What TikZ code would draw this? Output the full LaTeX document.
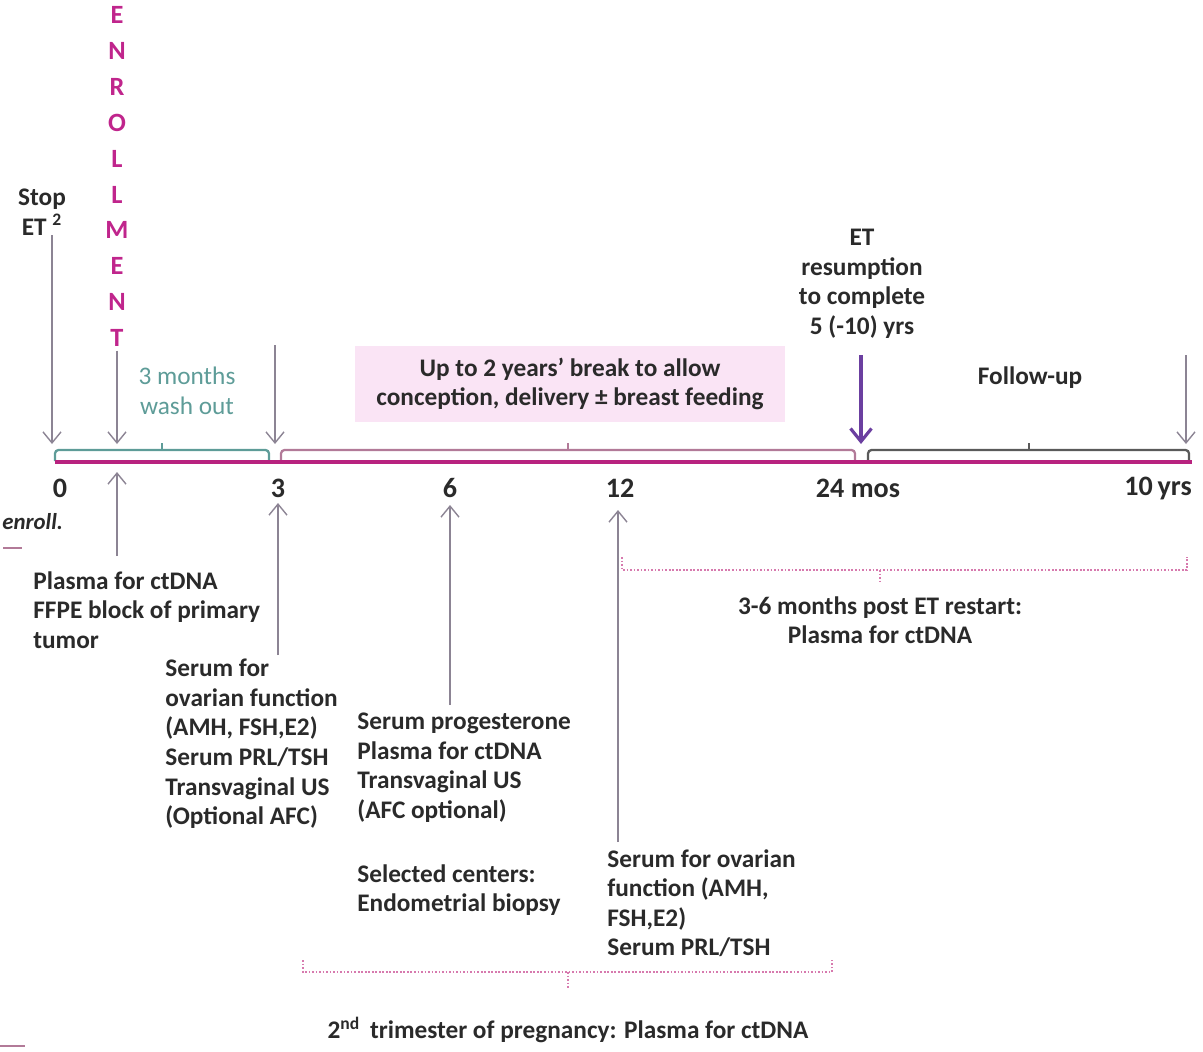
\documentclass[tikz,border=0pt]{standalone}
\usepackage{fontspec}
\setmainfont{Carlito}
\usetikzlibrary{positioning, arrows.meta}
\definecolor{tmag}{HTML}{B8237F}
\definecolor{tenr}{HTML}{C0258C}
\definecolor{tteal}{HTML}{5E9C98}
\definecolor{tmauve}{HTML}{B27A98}
\definecolor{tgray}{HTML}{8C8494}
\definecolor{tdgray}{HTML}{5A5A5A}
\definecolor{tpurple}{HTML}{6B3FA0}
\definecolor{tpink}{HTML}{FAE4F5}
\definecolor{tdot}{HTML}{D77AAE}
\definecolor{tdark}{HTML}{2A2A2A}

\begin{document}
\begin{tikzpicture}[x=0.02cm, y=-0.02cm,
    txt/.style={font=\fontsize{14.4}{16.8}\selectfont\bfseries, text=tdark, inner sep=0pt, align=left, anchor=north west},
    ctr/.style={txt, align=center, anchor=center},
    num/.style={font=\fontsize{16}{19}\selectfont\bfseries, text=tdark, inner sep=0pt},
    enr/.style={font=\fontsize{15}{18}\selectfont\bfseries, text=tenr, inner sep=0pt},
    arr/.style={-{Straight Barb[length=2.2mm, width=3.6mm]}, tgray, line width=0.8pt},
    parr/.style={-{Straight Barb[length=2.6mm, width=4.2mm]}, tpurple, line width=1.8pt},
    brk/.style={rounded corners=2pt, line width=1.3pt},
    dotbrk/.style={tdot, densely dotted, line width=1pt},
]
\useasboundingbox (0,0) rectangle (1203,1051);

% timeline
\coordinate (tl-start) at (55,462);
\coordinate (tl-end) at (1192,462);
\draw[brk, tteal] (55,461) -- (55,450) -- (269,450) -- (269,461);
\draw[tteal, line width=1.3pt] (162,450) -- (162,443);
\draw[brk, tmauve] (281,461) -- (281,450) -- (855,450) -- (855,461);
\draw[tmauve, line width=1.3pt] (568,450) -- (568,443);
\draw[brk, tdgray] (868,461) -- (868,450) -- (1189,450) -- (1189,461);
\draw[tdgray, line width=1.3pt] (1029,450) -- (1029,443);
\draw[tmag, line width=2.4pt] (tl-start) -- (tl-end);

\node[num] (m0) at (60,488) {0};
\node[num] (m3) at (278,488) {3};
\node[num] (m6) at (450,488) {6};
\node[num] (m12) at (620,488) {12};
\node[num] (m24) at (858,488) {24 mos};
\node[num] (m10) at (1158,488) {10\,yrs};

% from above
\node[ctr] (stop) at (42,212) {Stop\\ET \textsuperscript{2}};
\foreach \l [count=\i] in {E,N,R,O,L,L,M,E,N,T}
  \node[enr] (e\i) at (117,{15+35.9*(\i-1)}) {\l};
\coordinate (d0) at (52,444);
\coordinate (d1) at (117,444);
\coordinate (a3) at (275,345);
\coordinate (d3) at (275,444);
\coordinate (a24) at (861,355);
\coordinate (d24) at (861,444);
\coordinate (a10) at (1186,355);
\coordinate (d10) at (1186,444);
\draw[arr] (stop.south -| d0) -- (d0);
\draw[arr] ([yshift=-2pt]e10.south) -- (d1);
\draw[arr] (a3) -- (d3);
\draw[parr] (a24) -- (d24);
\draw[arr] (a10) -- (d10);

\node[ctr, text=tteal, font=\fontsize{14.4}{16.8}\selectfont] (wash) at (187,391) {3 months\\wash out};
\node[ctr, fill=tpink, minimum width=8.6cm, minimum height=1.54cm] (brkbox) at (570,384) {Up to 2 years’ break to allow\\conception, delivery ± breast feeding};
\node[ctr] (etres) at (862,284) {ET\\resumption\\to complete\\5 (-10) yrs};
\node[ctr] (fup) at (1030,378) {Follow-up};

% from below
\node[txt, anchor=west, font=\fontsize{13}{16}\selectfont\bfseries\itshape] (enroll) at (2,522) {enroll.};
\coordinate (b1) at (117,556);
\coordinate (p1) at (117,472);
\coordinate (b3) at (278,655);
\coordinate (p3) at (278,503);
\coordinate (b6) at (450,705);
\coordinate (p6) at (450,505);
\coordinate (b12) at (618,842);
\coordinate (p12) at (618,510);
\draw[arr] (b1) -- (p1);
\draw[arr] (b3) -- (p3);
\draw[arr] (b6) -- (p6);
\draw[arr] (b12) -- (p12);

\node[txt] (enrs) at (33,571) {Plasma for ctDNA\\FFPE block of primary\\tumor};
\node[txt] (s3) at (165,659) {Serum for\\ovarian function\\(AMH, FSH,E2)\\Serum PRL/TSH\\Transvaginal US\\(Optional AFC)};
\node[txt] (s6) at (357,713) {Serum progesterone\\Plasma for ctDNA\\Transvaginal US\\(AFC optional)};
\node[txt] (s6b) at (357,864) {Selected centers:\\Endometrial biopsy};
\node[txt] (s12) at (607,849) {Serum for ovarian\\function (AMH,\\FSH,E2)\\Serum PRL/TSH};

\draw[dotbrk] (622,557) -- (622,570) -- (1187,570) -- (1187,557);
\draw[dotbrk] (880,570) -- (880,582);
\node[ctr] (post) at (880,620) {3-6 months post ET restart:\\Plasma for ctDNA};

\draw[dotbrk] (303,960) -- (303,972) -- (832,972) -- (832,960);
\draw[dotbrk] (568,972) -- (568,988);
\node[ctr] (preg) at (568,1030) {2\textsuperscript{nd}\, trimester of pregnancy: Plasma for ctDNA};

\draw[tmauve, line width=1.5pt] (3,548) -- (22,548);
\draw[tmauve, line width=1.5pt] (0,1046) -- (25,1046);
\end{tikzpicture}
\end{document}
